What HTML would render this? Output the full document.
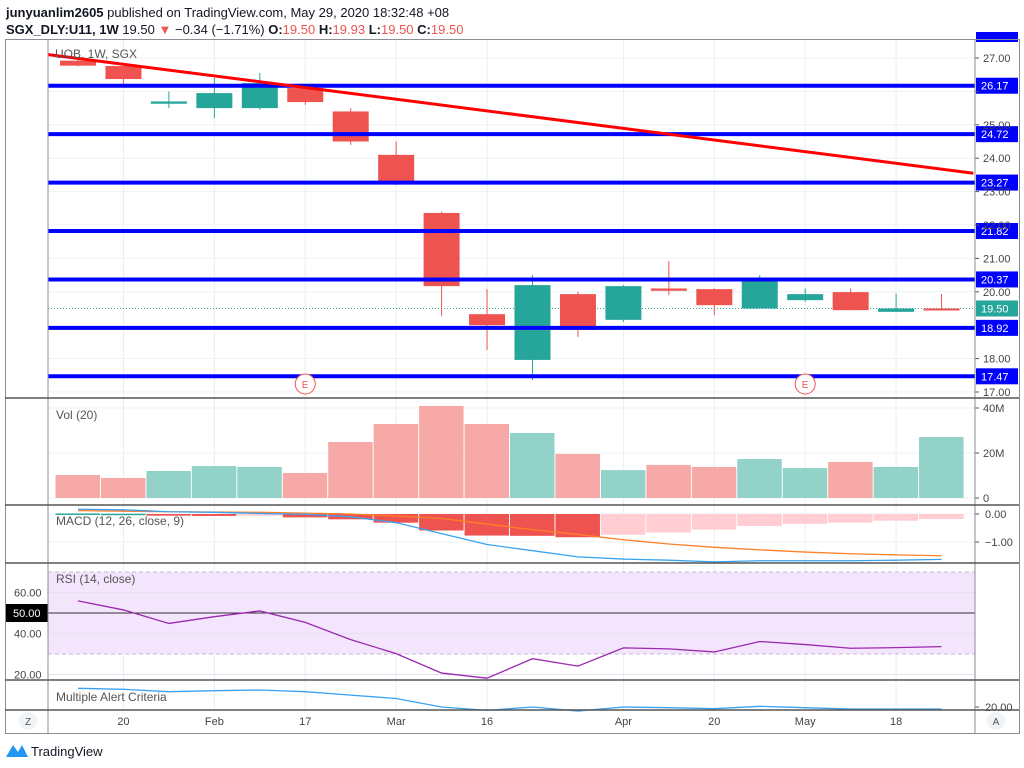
<!DOCTYPE html>
<html><head><meta charset="utf-8"><style>
body{margin:0;background:#fff;width:1024px;height:768px;overflow:hidden;font-family:"Liberation Sans",sans-serif}
svg text{font-family:"Liberation Sans",sans-serif}
</style></head><body>
<div style="position:absolute;left:6px;top:4px;font-size:13px;color:#131722;line-height:17px">
<div><b>junyuanlim2605</b> published on TradingView.com, May 29, 2020 18:32:48 +08</div>
<div><b>SGX_DLY:U11, 1W</b> 19.50 <span style="color:#ef5350">▼</span> −0.34 (−1.71%) <b>O:</b><span style="color:#ef5350">19.50</span> <b>H:</b><span style="color:#ef5350">19.93</span> <b>L:</b><span style="color:#ef5350">19.50</span> <b>C:</b><span style="color:#ef5350">19.50</span></div>
</div>
<svg id="c" width="1024" height="768" style="position:absolute;left:0;top:0"></svg>
<script>
const dates=['','20','','Feb','','17','','Mar','','16','','','Apr','','20','','May','','18',''];
const opens=[26.92,26.76,25.63,25.5,25.5,26.1,25.4,24.1,22.36,19.33,17.96,19.93,19.16,20.1,20.08,19.5,19.75,19.99,19.4,19.5];
const highs=[27.0,26.8,26.0,26.4,26.55,26.2,25.5,24.5,22.4,20.08,20.5,20.0,20.2,20.92,20.1,20.5,20.1,20.1,19.95,19.93];
const lows=[26.75,26.2,25.5,25.2,25.45,25.6,24.4,23.2,19.27,18.26,17.36,18.65,19.1,19.9,19.3,19.5,19.7,19.45,19.4,19.5];
const closes=[26.77,26.37,25.7,25.95,26.25,25.68,24.5,23.25,20.17,19.0,20.2,18.86,20.17,20.03,19.6,20.4,19.93,19.45,19.5,19.49];
const volumes=[10.2,8.9,12.0,14.2,13.8,11.1,24.9,32.9,40.9,32.9,28.9,19.6,12.4,14.7,13.8,17.3,13.3,16.0,13.8,27.1];
const volUp=[0,0,1,1,1,0,0,0,0,0,1,0,1,0,0,1,1,0,1,1];
const macd=[0.17,0.15,0.08,0.06,0.02,-0.01,-0.10,-0.31,-0.70,-1.09,-1.31,-1.53,-1.61,-1.65,-1.71,-1.67,-1.67,-1.67,-1.65,-1.62];
const signal=[0.12,0.10,0.08,0.07,0.06,0.03,0,-0.07,-0.16,-0.36,-0.56,-0.73,-0.92,-1.07,-1.19,-1.28,-1.36,-1.42,-1.46,-1.49];
const hist=[0.02,0.01,-0.06,-0.07,-0.06,-0.12,-0.19,-0.31,-0.59,-0.77,-0.78,-0.83,-0.74,-0.66,-0.56,-0.43,-0.35,-0.31,-0.24,-0.18];
const rsi=[55.9,51.5,44.9,48.2,51.0,45.4,37.0,30.2,20.7,18.2,27.7,24.1,33.0,32.5,31.0,36.1,34.6,32.8,33.1,33.6];
const alertVals=[25.5,25.2,24.5,24.8,25.0,24.5,23.5,22.5,20.0,19.0,20.0,18.8,20.0,19.8,19.5,20.2,19.8,19.4,19.4,19.4];
const levels=[26.17,24.72,23.27,21.82,20.37,18.92,17.47];
const priceTicks=[27,26,25,24,23,22,21,20,18,17];
const priceTickLabels=['27.00','','25.00','24.00','23.00','22.00','21.00','20.00','18.00','17.00'];
const trend=[[-0.65,27.1],[19.7,23.55]];

const S=document.getElementById('c');const NS='http://www.w3.org/2000/svg';
function mk(t,a,p){const e=document.createElementNS(NS,t);for(const k in a)e.setAttribute(k,a[k]);(p||S).appendChild(e);return e;}
function tx(x,y,s,a){const e=mk('text',Object.assign({x:x,y:y,'font-size':11,fill:'#131722'},a||{}));e.textContent=s;return e;}
const L=48,R=975;
const X=i=>78+i*45.45;
const PY=p=>58+(27-p)*33.4;
const VY=v=>498-v*2.25;
const MY=v=>514-v*28;
const RY=v=>613-(v-50)*2.05;
const AY=v=>707-(v-20)*3.4;
const g=mk('g',{});
dates.forEach((d,i)=>{if(d){const x=X(i);mk('line',{x1:x,x2:x,y1:39,y2:710,stroke:'#e8eef3'},g);}});
priceTicks.forEach(p=>mk('line',{x1:L,x2:R,y1:PY(p),y2:PY(p),stroke:'#eef2f6'},g));
[0,20,40].forEach(v=>mk('line',{x1:L,x2:R,y1:VY(v),y2:VY(v),stroke:'#eef2f6'},g));
[0,-1].forEach(v=>mk('line',{x1:L,x2:R,y1:MY(v),y2:MY(v),stroke:'#eef2f6'},g));
const band=mk('rect',{x:L,y:RY(70),width:R-L,height:RY(30)-RY(70),fill:'#f3e5fc'});
[60,40,20].forEach(v=>mk('line',{x1:L,x2:R,y1:RY(v),y2:RY(v),stroke:'#e6e0f0'}));
[70,30].forEach(v=>mk('line',{x1:L,x2:R,y1:RY(v),y2:RY(v),stroke:'#c9b8d9','stroke-dasharray':'4,3'}));
mk('line',{x1:L,x2:R,y1:RY(50),y2:RY(50),stroke:'#333'});
mk('line',{x1:L,x2:R,y1:PY(19.5),y2:PY(19.5),stroke:'#26a69a','stroke-dasharray':'1,2'});
opens.forEach((o,i)=>{const c=closes[i];const up=c>=o;const col=up?'#26a69a':'#ef5350';const x=X(i);
 const gg=mk('g',{});
 mk('line',{x1:x,x2:x,y1:PY(highs[i]),y2:PY(lows[i]),stroke:col,'stroke-width':1},gg);
 const t=PY(Math.max(o,c)),b=PY(Math.min(o,c));mk('rect',{x:x-18,y:t,width:36,height:Math.max(2,b-t),fill:col},gg);});
levels.forEach(l=>{const y=PY(l);const ln=mk('line',{x1:L,x2:R,y1:y,y2:y,stroke:'#0000ff','stroke-width':4});
 mk('rect',{x:R+1,y:y-8,width:42,height:16,fill:'#0000ff'});tx(R+6,y+4,l.toFixed(2),{fill:'#fff','font-size':11});});
const tl=mk('line',{x1:X(trend[0][0]),y1:PY(trend[0][1]),x2:X(trend[1][0]),y2:PY(trend[1][1]),stroke:'#ff0000','stroke-width':3});

mk('rect',{x:R+1,y:32,width:42,height:10,fill:'#0000ff'});
[5,16].forEach(i=>{const c=mk('circle',{cx:X(i),cy:384,r:10,fill:'#fff',stroke:'#ef5350'});tx(X(i)-3.5,388,'E',{fill:'#ef5350','font-size':10});});
tx(55,58,'UOB, 1W, SGX',{fill:'#555','font-size':12});
priceTicks.forEach((p,i)=>{const y=PY(p);mk('line',{x1:R,x2:R+4,y1:y,y2:y,stroke:'#555'});if(priceTickLabels[i])tx(R+8,y+4,priceTickLabels[i],{fill:'#444'});});
mk('rect',{x:R+1,y:PY(19.5)-8,width:42,height:16,fill:'#26a69a'});tx(R+6,PY(19.5)+4,'19.50',{fill:'#fff'});
volumes.forEach((v,i)=>{const r=mk('rect',{x:X(i)-22.5,y:VY(v),width:44.5,height:498-VY(v),fill:volUp[i]?'#92d2c9':'#f6a9a7'});});
tx(56,419,'Vol (20)',{fill:'#555','font-size':12});
[['40M',40],['20M',20],['0',0]].forEach(a=>{mk('line',{x1:R,x2:R+4,y1:VY(a[1]),y2:VY(a[1]),stroke:'#555'});tx(R+8,VY(a[1])+4,a[0],{fill:'#444'});});
hist.forEach((v,i)=>{let col;if(v>=0)col='#26a69a';else col=(i>0&&v<hist[i-1])?'#ef5350':'#ffcdd2';
 const y0=MY(0),y1=MY(v);const r=mk('rect',{x:X(i)-22.5,y:Math.min(y0,y1),width:44.5,height:Math.max(1.5,Math.abs(y1-y0)),fill:col});});
const pl=(arr,f,col,n)=>{const p=mk('polyline',{points:arr.map((v,i)=>X(i)+','+f(v)).join(' '),fill:'none',stroke:col,'stroke-width':1.3});};
pl(signal,MY,'#ff7f27','macd-signal-line');pl(macd,MY,'#3aa2f0','macd-line');
tx(56,525,'MACD (12, 26, close, 9)',{fill:'#555','font-size':12});
[['0.00',0],['−1.00',-1]].forEach(a=>{mk('line',{x1:R,x2:R+4,y1:MY(a[1]),y2:MY(a[1]),stroke:'#555'});tx(R+10,MY(a[1])+4,a[0],{fill:'#444'});});
pl(rsi,RY,'#9c27b0','rsi-line');
tx(56,583,'RSI (14, close)',{fill:'#555','font-size':12});
[['60.00',60],['40.00',40],['20.00',20]].forEach(a=>tx(14,RY(a[1])+4,a[0],{fill:'#444'}));
mk('rect',{x:6,y:RY(50)-9,width:42,height:18,fill:'#000'});tx(13,RY(50)+4,'50.00',{fill:'#fff'});
pl(alertVals,AY,'#3aa2f0','alert-line');
tx(56,701,'Multiple Alert Criteria',{fill:'#555','font-size':12});
mk('line',{x1:R,x2:R+4,y1:AY(20),y2:AY(20),stroke:'#555'});tx(R+10,AY(20)+4,'20.00',{fill:'#444'});
mk('rect',{x:5.5,y:39.5,width:1014,height:694,fill:'none',stroke:'#8a8e96'});
[L,R].forEach(x=>mk('line',{x1:x,x2:x,y1:39,y2:733,stroke:'#8a8e96'}));
[398,505,563,680,710].forEach(y=>mk('line',{x1:5,x2:1019,y1:y,y2:y,stroke:'#555','stroke-width':1.5}));
dates.forEach((d,i)=>{if(d)tx(X(i),725,d,{fill:'#444','text-anchor':'middle'});});
[[28,'Z'],[996,'A']].forEach(a=>{const c=mk('circle',{cx:a[0],cy:721,r:9,fill:'#f0f3f8'});tx(a[0],725,a[1],{fill:'#555','text-anchor':'middle','font-size':10});});
const lg=mk('path',{d:'M6 757 L13 745 L18 752 L22 745 L28 757 Z',fill:'#2196f3'});
tx(31,756,'TradingView',{fill:'#131722','font-size':13});
</script>
</body></html>
